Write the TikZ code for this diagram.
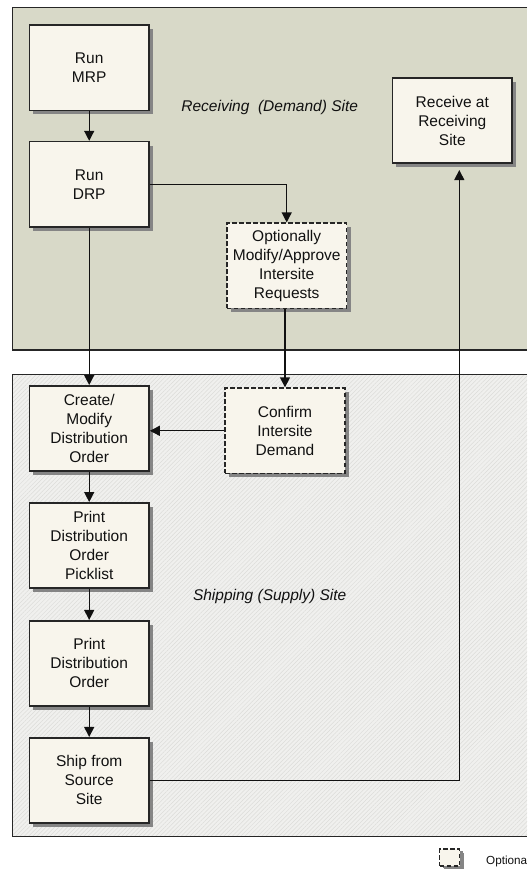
\documentclass[tikz,border=0pt]{standalone}
\usepackage{fontspec}
\setmainfont{Liberation Sans}
\usetikzlibrary{arrows.meta,shadows,patterns.meta}
\definecolor{regionA}{HTML}{D8D9C8}
\definecolor{regionB}{HTML}{F0F0EE}
\definecolor{hatch}{HTML}{DCDCD9}
\definecolor{boxfill}{HTML}{F8F5EC}
\definecolor{edge}{HTML}{262626}
\definecolor{shade}{HTML}{858585}
\definecolor{ink}{HTML}{111111}
\tikzset{
  stepbox/.style={draw=edge, line width=1.6pt, fill=boxfill, minimum width=119.7pt,
    minimum height=85.3pt, inner sep=0pt, align=center, text=ink,
    font=\fontsize{15.5}{19}\selectfont,
    drop shadow={shadow xshift=4pt, shadow yshift=-4pt, fill=shade, opacity=1}},
  optbox/.style={stepbox, dash pattern=on 4.5pt off 2.5pt},
  flow/.style={draw=ink, line width=1.3pt, -{Triangle[length=10pt,width=10pt]}},
  region/.style={draw=edge, line width=1.2pt},
  sitelabel/.style={font=\fontsize{15.5}{19}\selectfont\itshape, text=ink, inner sep=0pt}
}
\begin{document}
\begin{tikzpicture}[x=1pt, y=-1pt]
\useasboundingbox (0,0) rectangle (527,869);
\fill[white] (0,0) rectangle (527,869);
% regions
\fill[regionA] (12.7,7.3) rectangle (527,350);
\draw[region] (527,7.3) -- (12.7,7.3) -- (12.7,350) -- (527,350);
\fill[regionB] (12.7,374.3) rectangle (527,836.7);
\fill[pattern={Lines[angle=45,distance=3pt,line width=0.5pt]}, pattern color=hatch] (12.7,374.3) rectangle (527,836.7);
\draw[region] (527,374.3) -- (12.7,374.3) -- (12.7,836.7) -- (527,836.7);
% labels
\node[sitelabel] (recvlabel) at (269.7,107.6) {Receiving~ (Demand) Site};
\node[sitelabel] (shiplabel) at (269.7,596) {Shipping (Supply) Site};
% steps
\node[stepbox] (mrp) at (89.2,67.7) {Run\\MRP};
\node[stepbox] (drp) at (89.2,184.3) {Run\\DRP};
\node[optbox] (opt) at (286.7,265.8) {Optionally\\Modify/Approve\\Intersite\\Requests};
\node[stepbox] (recv) at (452.3,120.6) {Receive at\\Receiving\\Site};
\node[stepbox] (create) at (89.2,428.5) {Create/\\Modify\\Distribution\\Order};
\node[optbox] (confirm) at (285,430.8) {Confirm\\Intersite\\Demand};
\node[stepbox] (pick) at (89.2,545.5) {Print\\Distribution\\Order\\Picklist};
\node[stepbox] (pdo) at (89.2,663.4) {Print\\Distribution\\Order};
\node[stepbox] (ship) at (89.2,780.4) {Ship from\\Source\\Site};
% connectors
\draw[flow] (mrp) -- (drp);
\draw[flow] (drp.east) -| (opt.north);
\draw[flow] (drp) -- (create);
\draw[flow] (opt.south -| confirm.north) -- (confirm.north);
\draw[flow] (confirm.west) -- (confirm.west -| create.east);
\draw[flow] (create) -- (pick);
\draw[flow] (pick) -- (pdo);
\draw[flow] (pdo) -- (ship);
\draw[flow, shorten >=6pt] (ship.east) -| ([xshift=7pt]recv.south);
% legend
\node[optbox, minimum width=20pt, minimum height=17pt, line width=1.5pt,
  drop shadow={shadow xshift=3pt, shadow yshift=-2pt, fill=shade, opacity=1}] (legendbox) at (449.5,857.5) {};
\node[anchor=west, inner sep=0pt, text=ink, font=\fontsize{11.7}{14}\selectfont] (legendtext) at (486,861) {Optiona};
\end{tikzpicture}
\end{document}
